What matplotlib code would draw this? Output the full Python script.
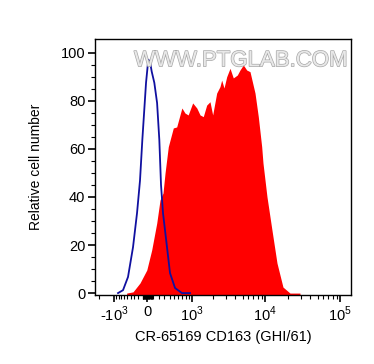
import numpy as np
import matplotlib.pyplot as plt
import matplotlib.patheffects as pe

plt.rcParams['font.family'] = ['Liberation Sans', 'DejaVu Sans']
plt.rcParams['mathtext.fontset'] = 'custom'
plt.rcParams['mathtext.rm'] = 'Liberation Sans'

# stained sample (red, filled)
red_x = [-515, -333, -160, -5, 77, 162, 219, 273, 311, 375, 480, 557, 688, 774, 870,
         1020, 1173, 1309, 1456, 1626, 1808, 1970, 2236, 2482, 2616, 2814, 3060, 3392,
         3756, 4253, 4622, 5120, 5682, 6292, 7340, 8121, 9015, 9380, 10610, 12360,
         14420, 17330, 21500, 29200]
red_y = [0, 0.5, 4.2, 9.6, 17.9, 29.1, 38.7, 41.6, 49.9, 60.9, 68.7, 69.1, 77.0, 74.9,
         74.1, 79.1, 77.0, 74.1, 73.4, 78.2, 79.6, 74.1, 83.2, 85.9, 88.6, 85.3, 90.0,
         93.5, 89.5, 90.7, 92.8, 94.9, 92.8, 92.1, 83.2, 73.4, 60.9, 54.1, 40.0, 26.2,
         12.5, 2.5, 0, 0]

# isotype control (blue line)
blue_x = [-826, -636, -474, -333, -231, -160, -106, -22, 21, 49, 77, 121, 168, 207,
          237, 273, 349, 410, 519, 690, 929]
blue_y = [0, 1.2, 6.7, 19.1, 33.3, 46.8, 63.7, 87.5, 97.1, 96.3, 92.2, 87.5, 79.1,
          63.7, 45.0, 33.3, 19.1, 8.3, 2.1, 0, 0]

major_ticks = [-1000, 0, 1000, 10000, 100000]
major_labels = ['-$10^3$', '0', '$10^3$', '$10^4$', '$10^5$']

# biexponential-like display scale
C = 535.0
K = 0.73


def fwd(x):
    x = np.asarray(x, dtype=float)
    a = np.arcsinh(x / C)
    return np.where(x < 0, K * a, a)


def inv(y):
    y = np.asarray(y, dtype=float)
    return np.where(y < 0, C * np.sinh(y / K), C * np.sinh(y))


fig = plt.figure(figsize=(3.74, 3.64), dpi=100)
ax = fig.add_axes([95 / 374, 69 / 364, 256 / 374, 256 / 364])
ax.set_xscale('function', functions=(fwd, inv))

ax.fill_between(red_x, red_y, -1, color='#ff0000', lw=0, zorder=2)
ax.plot(blue_x, blue_y, color='#1010a0', lw=1.3, zorder=3)

ax.set_xlim(-2350, 139700)
ax.set_ylim(-0.8, 105.7)

minors = [-2000] + list(range(-900, 0, 100)) + list(range(-90, 0, 10)) + \
    list(range(10, 100, 10)) + list(range(100, 1000, 100)) + \
    list(range(2000, 10000, 1000)) + list(range(20000, 100000, 10000))
ax.set_xticks(major_ticks)
ax.set_xticklabels(major_labels)
ax.set_xticks(minors, minor=True)
ax.set_yticks([0, 20, 40, 60, 80, 100])
ax.set_yticks(np.arange(0, 101, 5), minor=True)

ax.tick_params(which='major', direction='out', length=5, width=1.2, labelsize=10.5, pad=2)
ax.tick_params(which='minor', direction='out', length=3, width=0.8)
for s in ax.spines.values():
    s.set_linewidth(1.0)

ax.set_ylabel('Relative cell number', fontsize=10, labelpad=13)
ax.set_xlabel('CR-65169 CD163 (GHI/61)', fontsize=10.5, labelpad=4)

ax.text(0.57, 0.915, 'WWW.PTGLAB.COM', transform=ax.transAxes, ha='center', va='center',
        fontsize=16, color='#e8e8e8', zorder=5,
        path_effects=[pe.withStroke(linewidth=1.0, foreground='#a8a8a8')])

fig.savefig('out.png', dpi=100)
